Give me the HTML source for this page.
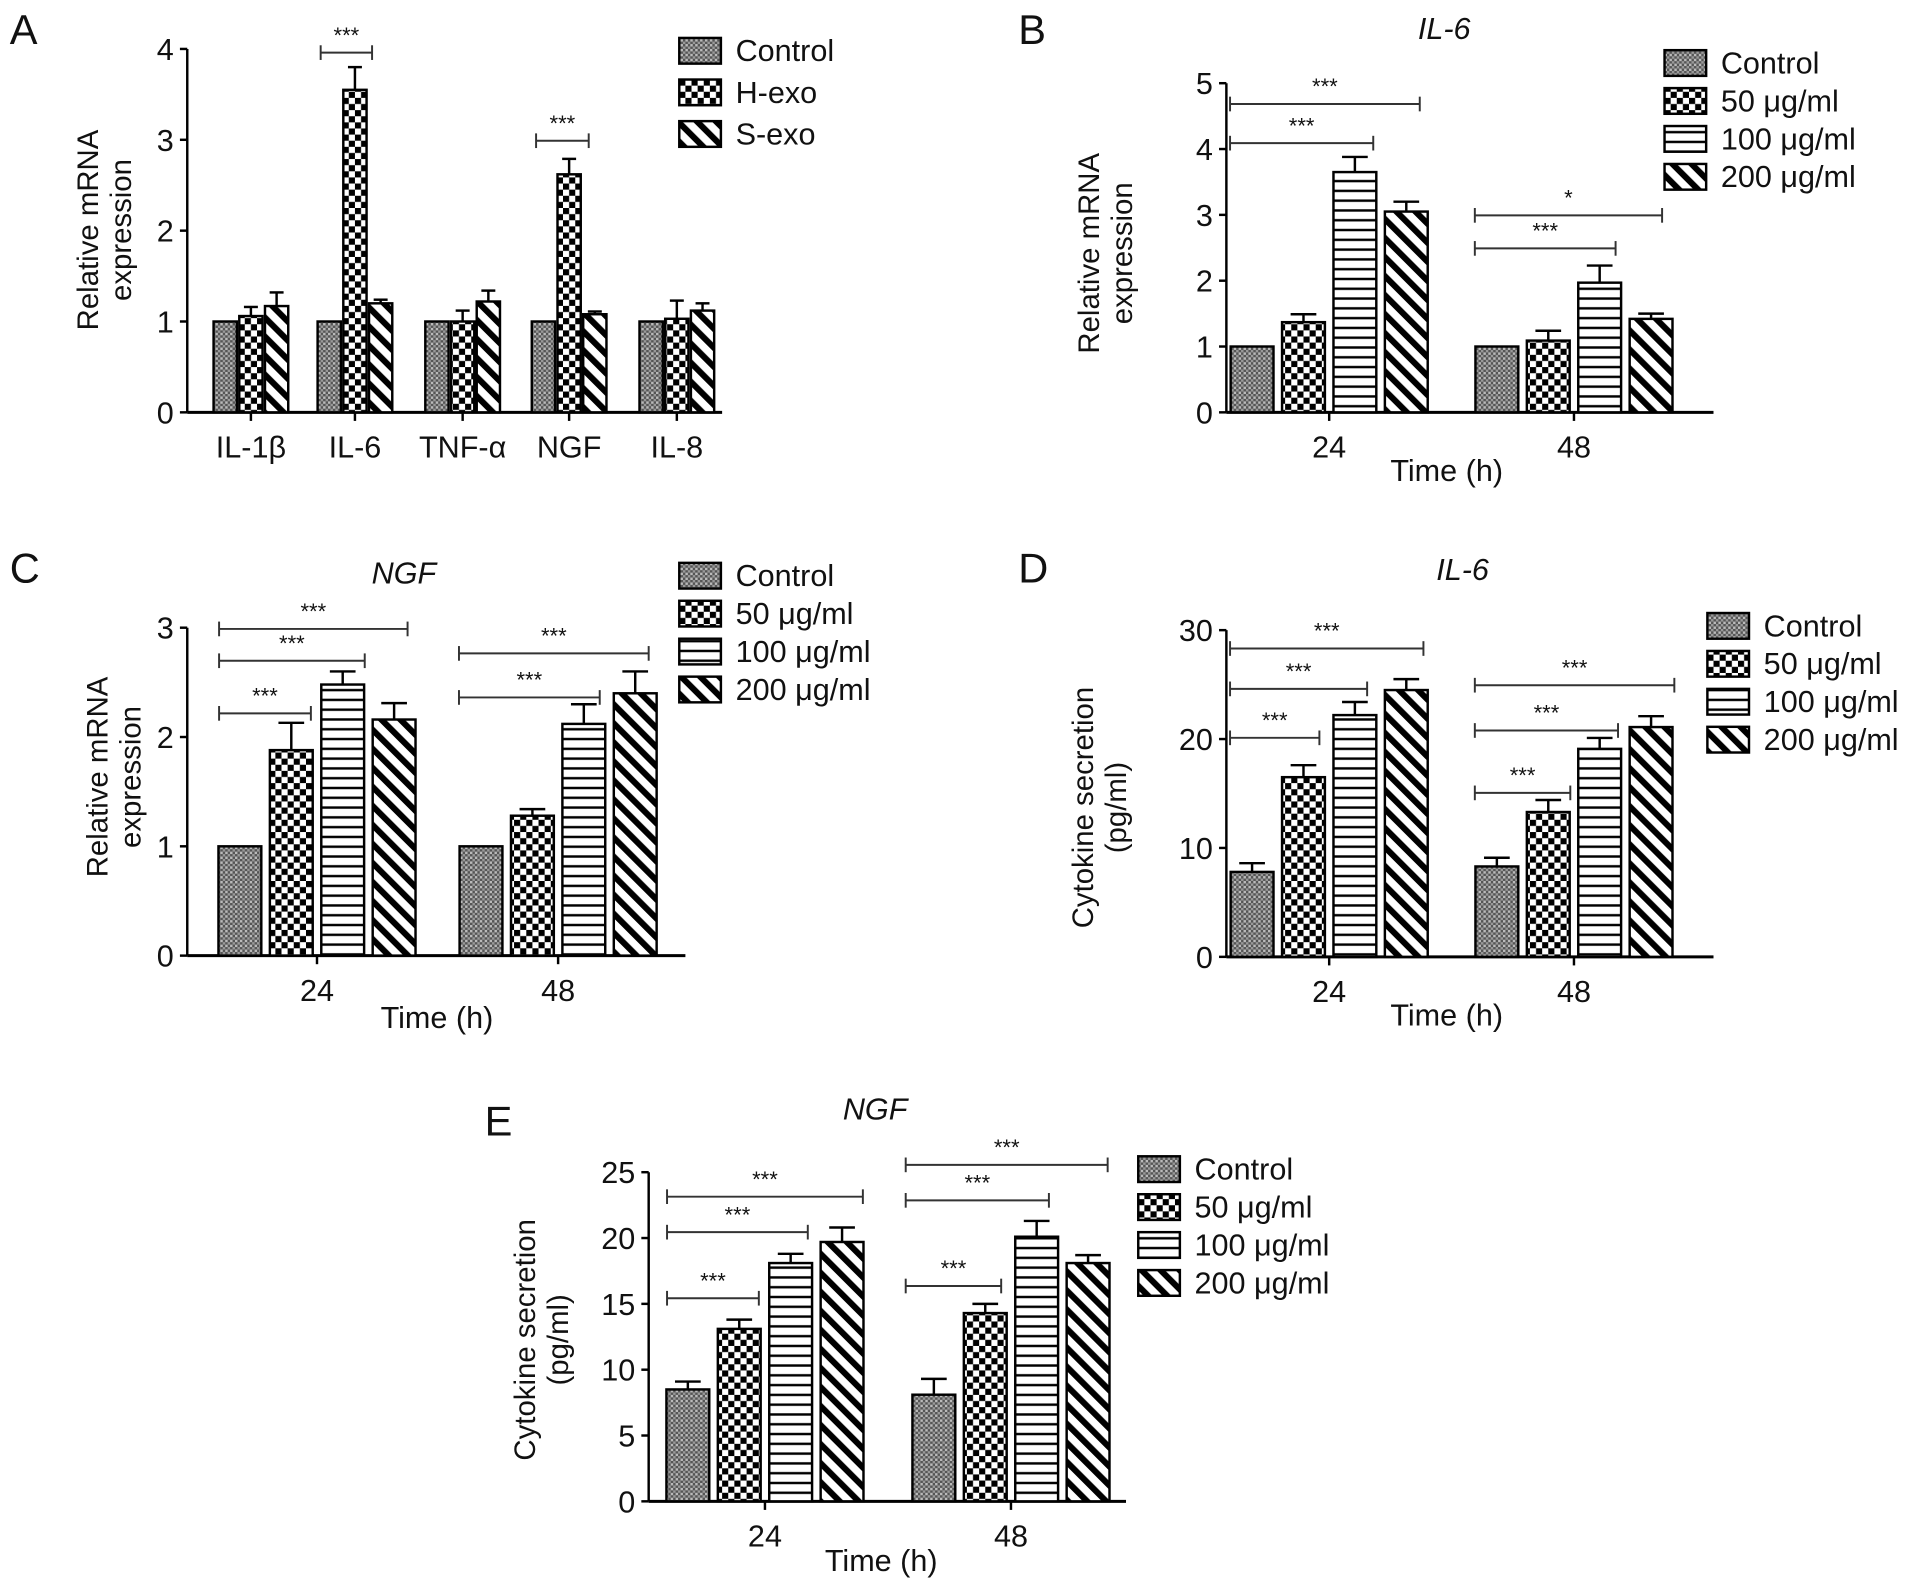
<!DOCTYPE html>
<html><head><meta charset="utf-8">
<style>
html,body{margin:0;padding:0;background:#fff;}
svg{display:block;}
text{font-family:"Liberation Sans",Arial,sans-serif;fill:#111;}
</style></head>
<body>
<svg id="fig" width="1913" height="1587" viewBox="0 0 1563 1297" preserveAspectRatio="none" xmlns="http://www.w3.org/2000/svg">
<defs>
<pattern id="pCtrl" width="4" height="4" patternUnits="userSpaceOnUse"><rect width="4" height="4" fill="#555"/><rect x="0" y="0" width="2" height="2" fill="#bbb"/><rect x="2" y="2" width="2" height="2" fill="#999"/></pattern>
<pattern id="pChk" width="10" height="10" patternUnits="userSpaceOnUse"><rect width="10" height="10" fill="#fff"/><rect x="0" y="0" width="5" height="5" fill="#000"/><rect x="5" y="5" width="5" height="5" fill="#000"/></pattern>
<pattern id="pHor" width="8" height="8" patternUnits="userSpaceOnUse"><rect width="8" height="8" fill="#fff"/><rect x="0" y="3" width="8" height="2" fill="#000"/></pattern>
<pattern id="pDia" width="11" height="11" patternUnits="userSpaceOnUse" patternTransform="rotate(-45)"><rect width="11" height="11" fill="#fff"/><rect x="0" y="0" width="5" height="11" fill="#000"/></pattern>
</defs>
</svg>
<script>
// ---------- Data ----------
const catsA = ["IL-1β","IL-6","TNF-α","NGF","IL-8"];
const seriesA = ["Control","H-exo","S-exo"];
const ctrlA = [1,1,1,1,1];
const hexoA = [1.06,3.55,1.0,2.62,1.03];
const hexoErrA = [0.1,0.25,0.12,0.17,0.2];
const sexoA = [1.17,1.2,1.22,1.08,1.12];
const sexoErrA = [0.15,0.04,0.12,0.03,0.08];
const ticksA = [0,1,2,3,4];

const timeCats = ["24","48"];
const doseSeries = ["Control","50 μg/ml","100 μg/ml","200 μg/ml"];
const valsB = [[1,1.37,3.65,3.05],[1,1.09,1.97,1.42]];
const errB = [[0,0.12,0.23,0.15],[0,0.15,0.26,0.08]];
const ticksB = [0,1,2,3,4,5];
const valsC = [[1,1.88,2.48,2.16],[1,1.28,2.12,2.4]];
const errC = [[0,0.25,0.12,0.15],[0,0.06,0.18,0.2]];
const ticksC = [0,1,2,3];
const valsD = [[7.8,16.5,22.2,24.5],[8.3,13.3,19.1,21.1]];
const errD = [[0.8,1.1,1.2,1.0],[0.8,1.1,1.0,1.0]];
const ticksD = [0,10,20,30];
const valsE = [[8.5,13.1,18.1,19.7],[8.1,14.3,20.1,18.1]];
const errE = [[0.6,0.7,0.7,1.1],[1.2,0.7,1.2,0.6]];
const ticksE = [0,5,10,15,20,25];

const NS="http://www.w3.org/2000/svg";
const fig=document.getElementById('fig');
function el(tag,attrs,parent,txt){const e=document.createElementNS(NS,tag);for(const k in attrs)e.setAttribute(k,attrs[k]);if(txt!==undefined)e.textContent=txt;(parent||fig).appendChild(e);return e;}
const fills=["url(#pCtrl)","url(#pChk)","url(#pHor)","url(#pDia)"];
const fillsA=["url(#pCtrl)","url(#pChk)","url(#pDia)"];

function drawPanel(cfg){
  const g=el('g',{});
  
  
  const yS=v=>cfg.y0-(v-0)/(cfg.ymax)*(cfg.y0-cfg.ytop);
  const L=el('text',{x:cfg.letter[0],y:cfg.letter[1],'font-size':34},g,cfg.letterText);
  
  
  if(cfg.title){const t=el('text',{x:cfg.title[0],y:cfg.title[1],'font-size':25,'font-style':'italic','text-anchor':'middle'},g,cfg.titleText);
    }
  const ya=el('line',{x1:cfg.ax,y1:cfg.y0,x2:cfg.ax,y2:cfg.ytop,stroke:'#000','stroke-width':2},g);
  
  const xa=el('line',{x1:cfg.ax,y1:cfg.y0,x2:cfg.axEnd,y2:cfg.y0,stroke:'#000','stroke-width':2.5},g);
  
  cfg.ticks.forEach(t=>{const y=yS(t);
    el('line',{x1:cfg.ax-6,y1:y,x2:cfg.ax,y2:y,stroke:'#000','stroke-width':2},g);
    const tl=el('text',{x:cfg.ax-11,y:y+9,'font-size':25,'text-anchor':'end'},g,String(t));
    });
  const yt=el('text',{transform:`translate(${cfg.ytx},${cfg.ytcy}) rotate(-90)`,'font-size':24,'text-anchor':'middle'},g);
  
  el('tspan',{x:0,y:0},yt,cfg.yt1);el('tspan',{x:0,y:27},yt,cfg.yt2);
  cfg.cats.forEach((c,ci)=>{
    const cx=cfg.centers[ci];
    el('line',{x1:cx,y1:cfg.y0,x2:cx,y2:cfg.y0+7,stroke:'#000','stroke-width':2},g);
    const xl=el('text',{x:cx,y:cfg.y0+37,'font-size':25,'text-anchor':'middle'},g,c);
    
    const n=cfg.vals[ci].length;
    for(let s=0;s<n;s++){
      const v=cfg.vals[ci][s], e=cfg.errs[ci][s];
      const x=cx-(n*cfg.bw+(n-1)*cfg.gap)/2+s*(cfg.bw+cfg.gap);
      const y=yS(v);
      if(e>0){const ye=yS(v+e);const xm=x+cfg.bw/2;const cw=cfg.bw*0.3;
        el('line',{x1:xm,y1:y,x2:xm,y2:ye,stroke:'#000','stroke-width':2},g);
        el('line',{x1:xm-cw,y1:ye,x2:xm+cw,y2:ye,stroke:'#000','stroke-width':2},g);}
      const b=el('rect',{x:x,y:y,width:cfg.bw,height:cfg.y0-y,fill:cfg.fills[s],stroke:'#000','stroke-width':2},g);
      
    }
  });
  (cfg.sig||[]).forEach(s=>{
    const br=el('g',{},g);
    
    el('line',{x1:s[0],y1:s[2],x2:s[1],y2:s[2],stroke:'#333','stroke-width':1.6},br);
    el('line',{x1:s[0],y1:s[2]-6,x2:s[0],y2:s[2]+6,stroke:'#333','stroke-width':1.6},br);
    el('line',{x1:s[1],y1:s[2]-6,x2:s[1],y2:s[2]+6,stroke:'#333','stroke-width':1.6},br);
    el('text',{x:(s[0]+s[1])/2,y:s[2]-8,'font-size':18,'text-anchor':'middle'},br,s[3]);
  });
  const lg=el('g',{},g);
  
  cfg.series.forEach((s,i)=>{
    const y=cfg.leg[1]+i*cfg.leg[2];
    const le=el('g',{},lg);
    
    el('rect',{x:cfg.leg[0],y:y-10,width:34,height:21,fill:cfg.fills[i],stroke:'#000','stroke-width':2},le);
    el('text',{x:cfg.leg[0]+46,y:y+9,'font-size':25},le,s);
  });
}

drawPanel({name:'panel-a',letterText:'A',letter:[8,36],ax:153,axEnd:590,y0:337,ytop:40,ymax:4,ticks:ticksA,
  ytx:80,ytcy:188,yt1:'Relative mRNA',yt2:'expression',cats:catsA,centers:[205,290,378,465,553],
  vals:catsA.map((c,i)=>[ctrlA[i],hexoA[i],sexoA[i]]),errs:catsA.map((c,i)=>[0,hexoErrA[i],sexoErrA[i]]),
  bw:19,gap:2,fills:fillsA,series:seriesA,leg:[555,41,34],
  sig:[[262,304,43,'***'],[438,481,115,'***']]});

drawPanel({name:'panel-b',letterText:'B',letter:[832,36],title:[1180,32],titleText:'IL-6',ax:1002,axEnd:1400,y0:337,ytop:68,ymax:5,ticks:ticksB,
  ytx:898,ytcy:207,yt1:'Relative mRNA',yt2:'expression',cats:timeCats,centers:[1086,1286],
  vals:valsB,errs:errB,bw:35,gap:7,fills:fills,series:doseSeries,leg:[1360,51,31],
  sig:[[1005,1160,85,'***'],[1005,1122,117,'***'],[1205,1358,176,'*'],[1205,1320,203,'***']]});

drawPanel({name:'panel-c',letterText:'C',letter:[8,476],title:[330,477],titleText:'NGF',ax:153,axEnd:560,y0:781,ytop:513,ymax:3,ticks:ticksC,
  ytx:88,ytcy:635,yt1:'Relative mRNA',yt2:'expression',cats:timeCats,centers:[259,456],
  vals:valsC,errs:errC,bw:35,gap:7,fills:fills,series:doseSeries,leg:[555,470,31],
  sig:[[179,333,514,'***'],[179,298,540,'***'],[179,254,583,'***'],[375,530,534,'***'],[375,490,570,'***']]});

drawPanel({name:'panel-d',letterText:'D',letter:[832,476],title:[1195,474],titleText:'IL-6',ax:1002,axEnd:1400,y0:782,ytop:515,ymax:30,ticks:ticksD,
  ytx:893,ytcy:660,yt1:'Cytokine secretion',yt2:'(pg/ml)',cats:timeCats,centers:[1086,1286],
  vals:valsD,errs:errD,bw:35,gap:7,fills:fills,series:doseSeries,leg:[1395,511,31],
  sig:[[1005,1163,530,'***'],[1005,1117,563,'***'],[1005,1078,603,'***'],[1205,1368,560,'***'],[1205,1322,597,'***'],[1205,1283,648,'***']]});

drawPanel({name:'panel-e',letterText:'E',letter:[396,928],title:[715,915],titleText:'NGF',ax:530,axEnd:920,y0:1227,ytop:958,ymax:25,ticks:ticksE,
  ytx:437,ytcy:1095,yt1:'Cytokine secretion',yt2:'(pg/ml)',cats:timeCats,centers:[625,826],
  vals:valsE,errs:errE,bw:35,gap:7,fills:fills,series:doseSeries,leg:[930,955,31],
  sig:[[545,705,978,'***'],[545,660,1007,'***'],[545,620,1061,'***'],[740,905,952,'***'],[740,857,981,'***'],[740,818,1051,'***']]});

[[1182,393],[357,840],[1182,838],[720,1284]].forEach(p=>{
  const t=el('text',{x:p[0],y:p[1],'font-size':25,'text-anchor':'middle'},fig,'Time (h)');
  
  
});
</script>
</body></html>
